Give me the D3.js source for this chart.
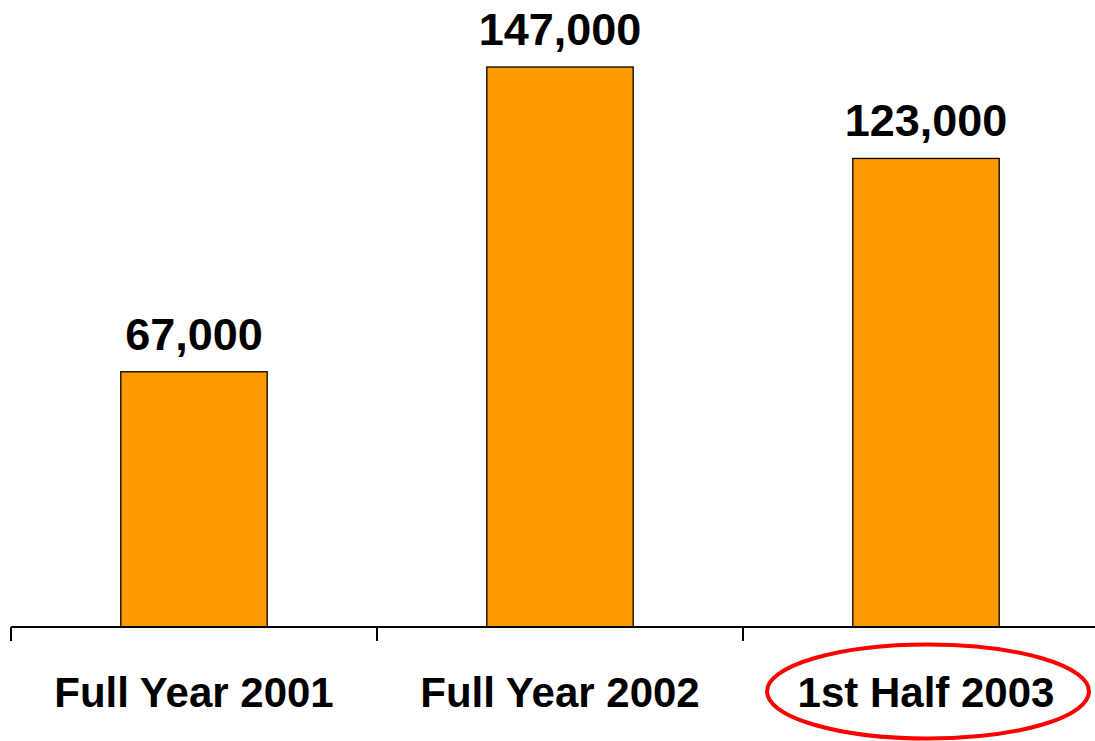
<!DOCTYPE html>
<html>
<head>
<meta charset="utf-8">
<script src="https://cdn.jsdelivr.net/npm/d3@7"></script>
<style>
  html, body { margin: 0; padding: 0; background: #fff; }
  svg { display: block; }
  text { font-family: "Liberation Sans", Arial, sans-serif; font-weight: bold; fill: #000; }
</style>
</head>
<body>
<svg id="chart" width="1095" height="741"></svg>
<script>
// Period labels and the count recorded for each
const categories = ["Full Year 2001", "Full Year 2002", "1st Half 2003"];
const values = [67000, 147000, 123000];
// The period singled out with a red ring
const highlighted = ["1st Half 2003"];

const svg = d3.select("#chart");
const baseline = 627;

const x = d3.scaleBand()
  .domain(categories)
  .range([11, 1109])
  .paddingInner(0.6)
  .paddingOuter(0.3);

const y = d3.scaleLinear()
  .domain([0, 160000])
  .range([baseline, baseline - 609.5]);

const fmt = d3.format(",");

// Bars
svg.append("g")
  .selectAll("rect")
  .data(values)
  .join("rect")
  .attr("x", (d, i) => x(categories[i]))
  .attr("y", d => y(d))
  .attr("width", x.bandwidth())
  .attr("height", d => baseline - y(d))
  .attr("fill", "#ff9900")
  .attr("stroke", "#000")
  .attr("stroke-width", 1.3);

// Value labels above bars
svg.append("g")
  .selectAll("text")
  .data(values)
  .join("text")
  .attr("x", (d, i) => x(categories[i]) + x.bandwidth() / 2)
  .attr("y", d => y(d) - 22)
  .attr("text-anchor", "middle")
  .style("font-size", "45px")
  .text(d => fmt(d));

// Category axis: baseline with ticks between the bands
const axis = svg.append("g");
axis.append("line")
  .attr("x1", x.range()[0]).attr("x2", x.range()[1])
  .attr("y1", baseline).attr("y2", baseline)
  .attr("stroke", "#000").attr("stroke-width", 2);

const tickPositions = d3.range(categories.length + 1).map(i => x.range()[0] + i * x.step());
axis.selectAll("line.tick")
  .data(tickPositions)
  .join("line")
  .attr("class", "tick")
  .attr("x1", d => d).attr("x2", d => d)
  .attr("y1", baseline).attr("y2", baseline + 14)
  .attr("stroke", "#000").attr("stroke-width", 2);

// Category labels
axis.selectAll("text")
  .data(categories)
  .join("text")
  .attr("x", d => x(d) + x.bandwidth() / 2)
  .attr("y", 707)
  .attr("text-anchor", "middle")
  .style("font-size", "42px")
  .text(d => d);

// Red ring around the highlighted period
svg.append("g")
  .selectAll("ellipse")
  .data(highlighted)
  .join("ellipse")
  .attr("cx", d => x(d) + x.bandwidth() / 2 + 2)
  .attr("cy", 691.5)
  .attr("rx", 161)
  .attr("ry", 47)
  .attr("fill", "none")
  .attr("stroke", "#ff0000")
  .attr("stroke-width", 4);
</script>
</body>
</html>
